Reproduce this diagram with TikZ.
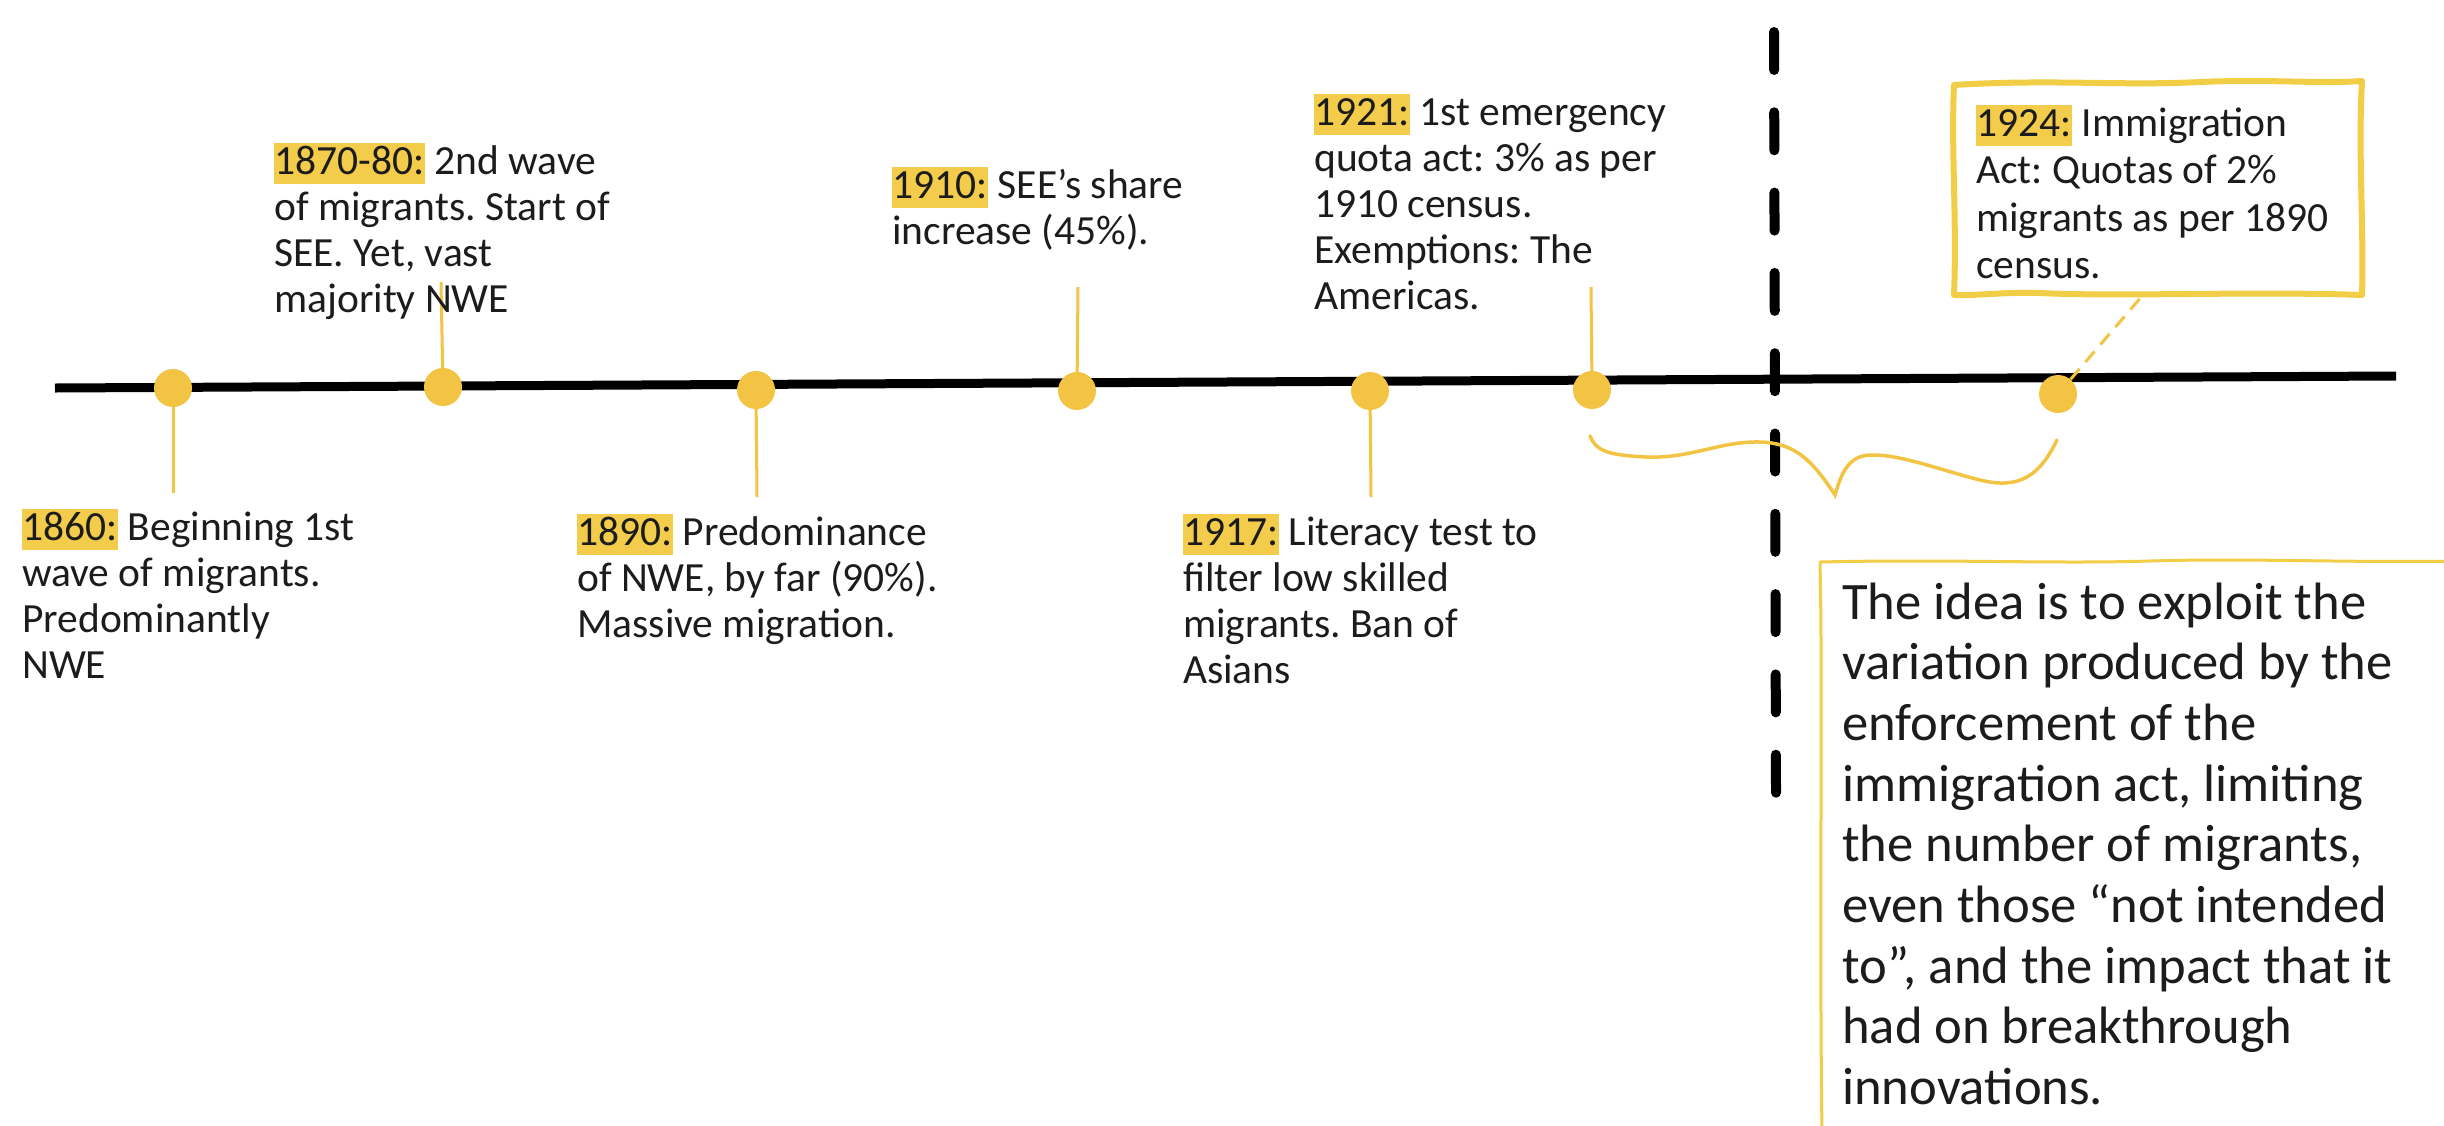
\documentclass[tikz,border=0pt]{standalone}
\usepackage{fontspec}
\setmainfont{Carlito}
\frenchspacing
\definecolor{dotc}{RGB}{243,196,68}
\definecolor{hlc}{RGB}{242,204,74}
\definecolor{boxc}{RGB}{242,205,70}
\definecolor{ink}{RGB}{28,28,28}
\newcommand{\yr}[1]{{\setlength{\fboxsep}{0pt}\colorbox{hlc}{\rule[-10pt]{0pt}{41pt}#1\hspace{1pt}}}}
\newcommand{\evtext}[1]{\parbox[t]{430pt}{\fontsize{41.5pt}{46pt}\selectfont\raggedright\frenchspacing #1}}
\newcommand{\boxtext}[1]{\parbox[t]{430pt}{\fontsize{41.5pt}{47.5pt}\selectfont\raggedright\frenchspacing #1}}
\newcommand{\bigtext}[1]{\parbox[t]{600pt}{\fontsize{52.6pt}{60.7pt}\selectfont\raggedright\frenchspacing #1}}
\begin{document}
\begin{tikzpicture}[x=1pt,y=-1pt,
  dot/.style={circle,fill=dotc,inner sep=0pt,minimum size=38pt},
  stem/.style={draw=dotc,line width=3pt},
  txt/.style={anchor=base west,inner sep=0pt,text=ink},
  handbox/.style={draw=boxc,line join=round,line cap=round}]
\useasboundingbox[fill=white] (0,0) rectangle (2444,1125);

% timeline
\coordinate (tl) at (55,388);
\coordinate (tr) at (2396,376);
\draw[line width=9pt] (tl) -- (tr);

% vertical divider
\coordinate (v1) at (1774,32);
\coordinate (v2) at (1776,793);
\draw[line width=10pt,line cap=round,dash pattern=on 38pt off 42.3pt] (v1) -- (v2);

% dots
\node[dot] (d1) at (173,388) {};
\node[dot] (d2) at (443,387) {};
\node[dot] (d3) at (756,390) {};
\node[dot] (d4) at (1077,391) {};
\node[dot] (d5) at (1370,391) {};
\node[dot] (d6) at (1592,390) {};
\node[dot] (d7) at (2058,394) {};

% stems
\coordinate (s1) at (173,493);
\coordinate (s2) at (441,282);
\coordinate (s3) at (757,497);
\coordinate (s4) at (1078,287);
\coordinate (s5) at (1371,497);
\coordinate (s6) at (1591,287);
\coordinate (s7) at (2142,296);
\draw[stem] (d1) -- (s1);
\draw[stem] (d2) -- (s2);
\draw[stem] (d3) -- (s3);
\draw[stem] (d4) -- (s4);
\draw[stem] (d5) -- (s5);
\draw[stem] (d6) -- (s6);
\draw[stem,dash pattern=on 14pt off 9pt] (d7) -- (s7);

% texts
\node[txt] (t1) at (22,540) {\evtext{\yr{1860:} Beginning 1st\\wave of migrants.\\Predominantly\\NWE}};
\node[txt] (t2) at (274,174) {\evtext{\yr{1870-80:} 2nd wave\\of migrants. Start of\\SEE. Yet, vast\\majority NWE}};
\node[txt] (t3) at (577,545) {\evtext{\yr{1890:} Predominance\\of NWE, by far (90\%).\\Massive migration.}};
\node[txt] (t4) at (892,198) {\evtext{\yr{1910:} SEE’s share\\increase (45\%).}};
\node[txt] (t5) at (1183,545) {\evtext{\yr{1917:} Literacy test to\\filter low skilled\\migrants. Ban of\\Asians}};
\node[txt] (t6) at (1314,125) {\evtext{\yr{1921:} 1st emergency\\quota act: 3\% as per\\1910 census.\\Exemptions: The\\Americas.}};
\node[txt] (t7) at (1976,136) {\boxtext{\yr{1924:} Immigration\\Act: Quotas of 2\%\\migrants as per 1890\\census.}};
\node[txt] (t8) at (1842,619) {\bigtext{The idea is to exploit the\\variation produced by the\\enforcement of the\\immigration act, limiting\\the number of migrants,\\even those “not intended\\to”, and the impact that it\\had on breakthrough\\innovations.}};

% hand-drawn box around 1924
\draw[handbox,line width=6pt] (1954,85) .. controls (2050,79) and (2120,86) .. (2200,82)
  .. controls (2270,79) and (2320,84) .. (2362,81)
  .. controls (2358,150) and (2364,230) .. (2362,295)
  .. controls (2250,291) and (2120,297) .. (2040,293)
  .. controls (2000,292) and (1975,296) .. (1954,295)
  .. controls (1957,220) and (1951,150) .. cycle;

% big box (top and left sides)
\draw[handbox,line width=3pt] (1822,1135) .. controls (1819,900) and (1823,700) .. (1820,562)
  .. controls (1950,559) and (2050,564) .. (2150,561)
  .. controls (2250,558) and (2350,563) .. (2460,561);

% curly brace
\draw[draw=dotc,line width=3.5pt,line cap=round] (1590,436)
  .. controls (1596,450) and (1605,455) .. (1646,457)
  .. controls (1690,459) and (1720,441) .. (1760,442)
  .. controls (1795,443) and (1812,460) .. (1835,495)
  .. controls (1842,470) and (1850,456) .. (1870,455)
  .. controls (1900,454) and (1940,470) .. (1980,480)
  .. controls (2020,490) and (2040,475) .. (2057,440);
\end{tikzpicture}
\end{document}
